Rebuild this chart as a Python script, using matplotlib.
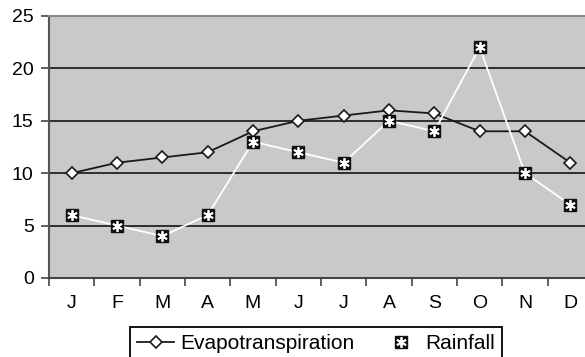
import numpy as np
import matplotlib
matplotlib.use("Agg")
import matplotlib.pyplot as plt
from matplotlib.lines import Line2D
from matplotlib.legend_handler import HandlerTuple

plt.rcParams['font.family'] = ['Liberation Sans', 'DejaVu Sans']

months = ['J', 'F', 'M', 'A', 'M', 'J', 'J', 'A', 'S', 'O', 'N', 'D']
evapotranspiration = [10, 11, 11.5, 12, 14, 15, 15.5, 16, 15.7, 14, 14, 11]
rainfall = [6, 5, 4, 6, 13, 12, 11, 15, 14, 22, 10, 7]
y_ticks = [0, 5, 10, 15, 20, 25]

W, H = 585, 357
fig = plt.figure(figsize=(W / 100, H / 100), dpi=100)
# plot area runs past the right edge of the canvas
ax = fig.add_axes([49 / W, 1 - 278 / H, 544 / W, 262 / H])
ax.set_facecolor('#c8c9cb')

x = np.arange(len(months))
ax.set_xlim(-0.5, len(months) - 0.5)
ax.set_ylim(0, 25)
ax.set_yticks(y_ticks)
ax.grid(axis='y', color='#222222', lw=1.3)
ax.set_axisbelow(True)

ax.set_xticks(x, months)
ax.set_xticks(np.arange(-0.5, len(months), 1), minor=True)
ax.tick_params(axis='x', which='major', length=0, pad=12, labelsize=14)
ax.tick_params(axis='x', which='minor', length=6, width=1.2, color='#444444')
ax.tick_params(axis='y', length=6, width=1.2, color='#444444', pad=5, labelsize=14)

for side, col in [('left', '#555555'), ('bottom', '#444444'), ('top', '#888888')]:
    ax.spines[side].set_color(col)
    ax.spines[side].set_linewidth(1.5)
ax.spines['right'].set_visible(False)

ax.plot(x, evapotranspiration, color='#1a1a1a', lw=1.3, marker='D',
        mfc='white', mec='#1a1a1a', ms=6.5, mew=1.2, zorder=3)
ax.plot(x, rainfall, color='white', lw=1.3, marker='s',
        mfc='#111111', mec='#111111', ms=8.5, zorder=4)
ax.plot(x, rainfall, ls='none', marker=(6, 2, 0), color='white',
        ms=7.5, mew=1.3, zorder=5)

h_evap = Line2D([], [], color='#1a1a1a', lw=1.3, marker='D', mfc='white',
                mec='#1a1a1a', ms=6, mew=1.2)
h_sq = Line2D([], [], ls='none', marker='s', mfc='#111111', mec='#111111', ms=8.5)
h_ast = Line2D([], [], ls='none', marker=(6, 2, 0), color='white', ms=7.5, mew=1.3)

leg = fig.legend([h_evap, (h_sq, h_ast)], ['Evapotranspiration', 'Rainfall'],
                 loc='upper left', bbox_to_anchor=(130 / W, 1 - 327 / H),
                 ncol=2, fontsize=15, frameon=True, fancybox=False,
                 edgecolor='black', framealpha=1, borderaxespad=0,
                 handlelength=1.75, handletextpad=0.3, columnspacing=1.35,
                 borderpad=0.35,
                 handler_map={tuple: HandlerTuple(ndivide=1, pad=0)})
leg.get_frame().set_linewidth(1.3)

fig.savefig('out.png', dpi=100)
